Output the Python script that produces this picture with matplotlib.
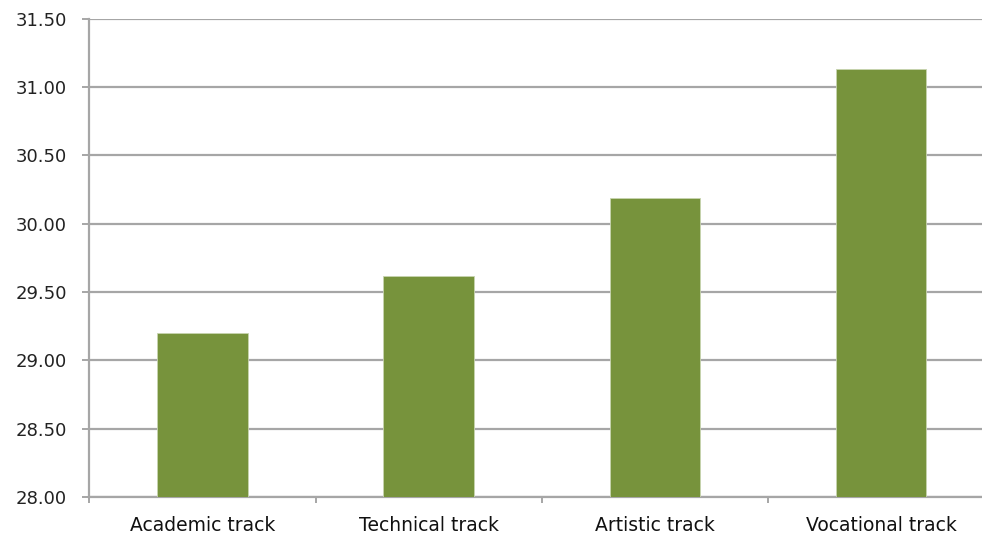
import numpy as np
import matplotlib.pyplot as plt

categories = ['Academic track', 'Technical track', 'Artistic track', 'Vocational track']
values = [29.20, 29.62, 30.19, 31.13]
y_ticks = [28.00, 28.50, 29.00, 29.50, 30.00, 30.50, 31.00, 31.50]

fig = plt.figure(figsize=(9.82, 5.38), dpi=100)
# plot area runs a little past the right edge of the image, as in the original
ax = fig.add_axes([89.3 / 982, 1 - 497 / 538, 905 / 982, (497 - 18.7) / 538])

x = np.arange(len(categories))
ax.bar(x, values, width=0.40, color='#77933C', edgecolor='#c8d4b0', linewidth=0.6, zorder=3)

ax.set_ylim(28, 31.5)
ax.set_xlim(-0.5, len(categories) - 0.5)
ax.set_yticks(y_ticks)
ax.set_yticklabels(['%.2f' % v for v in y_ticks], fontsize=13, color='#222222')
ax.yaxis.grid(True, color='#a6a6a6', linewidth=1.6, zorder=0)

# category labels centred, tick marks at the boundaries
ax.set_xticks(x)
ax.set_xticklabels(categories, fontsize=13.5, color='#111111')
ax.tick_params(axis='x', which='major', length=0, pad=14)
ax.set_xticks(np.arange(-0.5, len(categories)), minor=True)
ax.tick_params(axis='x', which='minor', length=4.5, width=1.4, color='#a6a6a6')
ax.tick_params(axis='y', length=5, width=1.4, color='#a6a6a6', pad=11)

for s in ['top', 'right']:
    ax.spines[s].set_visible(False)
for s in ['left', 'bottom']:
    ax.spines[s].set_color('#a6a6a6')
    ax.spines[s].set_linewidth(1.6)

fig.savefig('out.png', dpi=100)
